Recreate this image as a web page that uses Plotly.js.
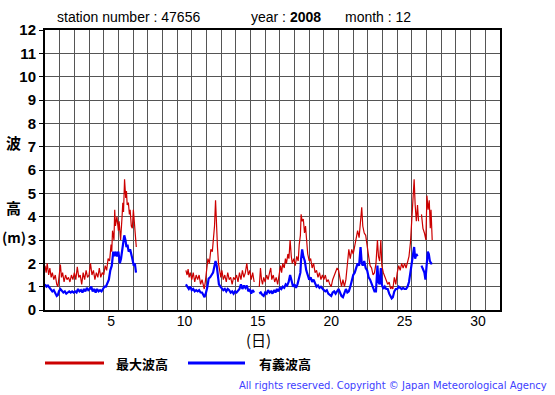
<!DOCTYPE html>
<html>
<head>
<meta charset="utf-8">
<script src="https://cdn.plot.ly/plotly-3.0.1.min.js"></script>
<style>html,body{margin:0;padding:0;background:#fff;}#chart{width:555px;height:395px;}</style>
</head>
<body>
<div id="chart"></div>
<script>
// ---- data (time in days from start of month, wave height in m; null = missing) ----
const maxT = [0.00,0.08,0.15,0.25,0.33,0.42,0.5,0.6,0.7,0.8,0.88,0.95,1.05,1.12,1.2,1.3,1.4,1.5,1.6,1.7,1.8,1.9,2.0,2.1,2.2,2.3,2.4,2.5,2.6,2.7,2.8,2.9,3.0,3.1,3.2,3.3,3.4,3.5,3.6,3.7,3.8,3.9,4.0,4.1,4.2,4.3,4.4,4.5,4.55,4.6,4.7,4.75,4.8,4.9,5.0,5.05,5.15,5.25,5.3,5.35,5.42,5.5,5.55,5.6,5.68,5.75,5.8,5.88,5.95,6.02,6.1,6.18,6.22,
  8.0,
  9.6,9.68,9.75,9.82,9.9,10.0,10.1,10.2,10.3,10.4,10.5,10.6,10.7,10.78,10.85,10.92,11.0,11.1,11.2,11.3,11.4,11.5,11.55,11.62,11.68,11.75,11.82,11.9,11.98,12.05,12.15,12.25,12.35,12.45,12.55,12.65,12.75,12.85,12.95,13.05,13.15,13.25,13.35,13.45,13.55,13.65,13.75,13.85,13.95,14.05,14.15,14.25,
  14.4,
  14.6,14.68,14.75,14.82,14.9,15.0,15.1,15.2,15.3,15.38,15.45,15.55,15.65,15.75,15.85,15.95,16.05,16.12,16.2,16.3,16.38,16.45,16.55,16.62,16.7,16.78,16.85,16.95,17.05,17.15,17.25,17.32,17.4,17.45,17.52,17.6,17.68,17.75,17.82,17.9,18.0,18.1,18.2,18.3,18.4,18.5,18.6,18.7,18.8,18.9,19.0,19.1,19.2,19.3,19.4,19.5,19.6,19.7,19.8,19.9,20.0,20.1,20.2,20.3,20.4,20.5,20.6,20.7,20.8,20.9,21.0,21.1,21.2,21.3,21.4,21.5,21.58,21.65,21.75,21.85,21.95,22.05,22.15,22.25,22.35,22.45,22.55,22.65,22.72,22.8,22.88,22.95,23.05,23.15,23.25,23.35,23.45,23.55,23.62,23.7,23.8,23.9,24.0,24.1,24.2,24.3,24.4,24.5,24.6,24.7,24.8,24.9,25.0,25.08,25.15,25.22,25.3,25.38,25.45,
  25.55,
  25.65,25.75,25.85,25.95,26.02,26.1,26.18,26.25,26.3,26.38];
const maxH = [1.9,1.6,2.0,1.5,1.8,1.4,1.6,1.3,1.5,1.1,1.0,1.4,1.95,1.4,1.6,1.2,1.5,1.3,1.4,1.2,1.5,1.3,1.6,1.3,1.85,1.4,1.5,1.1,1.6,1.3,1.7,1.4,1.5,2.0,1.5,1.7,1.3,1.6,1.4,1.8,1.4,1.6,1.5,1.9,1.7,2.2,2.1,2.8,2.5,3.4,3.0,4.3,3.6,4.0,3.4,3.8,3.0,4.0,4.6,4.2,5.6,4.8,5.1,4.5,4.6,4.1,4.3,3.6,3.5,4.3,3.6,2.8,2.7,
  null,
  1.7,1.5,1.75,1.4,1.6,1.3,1.6,1.2,1.5,1.3,1.5,1.1,1.3,1.0,0.9,1.2,1.7,2.2,2.0,2.6,2.5,3.3,3.6,4.7,3.6,2.7,2.0,1.6,1.4,1.7,1.3,1.5,1.2,1.6,1.3,1.4,1.1,1.4,1.3,1.5,1.2,1.6,1.3,1.7,1.4,1.6,2.0,1.5,1.7,1.3,1.6,1.2,
  null,
  1.0,1.8,1.3,1.1,1.4,1.2,1.5,1.3,1.6,1.8,1.3,1.5,1.2,1.4,1.1,1.5,1.9,1.6,2.0,1.8,2.2,2.0,2.4,2.2,3.0,2.3,2.0,2.2,1.9,2.3,2.1,2.8,3.2,4.1,3.8,3.9,3.3,3.6,2.8,2.4,2.1,2.2,1.8,2.0,1.6,1.7,1.4,1.6,1.3,1.5,1.3,1.5,1.2,1.3,1.1,1.0,1.3,1.5,1.6,1.8,1.7,1.4,1.0,1.3,1.0,1.3,1.9,2.6,2.2,2.6,2.4,2.8,3.0,3.4,3.1,3.9,4.4,3.6,3.3,3.2,2.6,2.3,1.9,1.8,1.5,1.6,2.0,3.0,2.3,2.1,3.0,1.9,1.6,1.4,1.3,1.1,1.2,0.9,1.0,0.9,1.4,1.1,1.6,1.9,1.7,2.0,1.8,2.0,1.8,2.1,2.3,2.9,3.8,4.8,5.6,4.5,3.8,4.5,3.8,
  null,
  4.1,3.5,3.3,3.0,4.9,4.3,4.7,3.5,4.3,3.0];

const sigT = [0.00,0.1,0.2,0.3,0.4,0.5,0.6,0.7,0.8,0.88,0.95,1.05,1.15,1.25,1.35,1.45,1.55,1.65,1.75,1.85,1.95,2.05,2.15,2.25,2.35,2.45,2.55,2.65,2.75,2.85,2.95,3.05,3.15,3.25,3.35,3.45,3.55,3.65,3.75,3.85,3.95,4.05,4.15,4.25,4.35,4.45,4.55,4.65,4.72,4.8,4.9,5.0,5.1,5.18,5.25,5.32,5.4,5.48,5.55,5.62,5.7,5.8,5.88,5.95,6.05,6.12,6.2,
  8.0,
  9.6,9.7,9.8,9.9,10.0,10.1,10.2,10.3,10.4,10.5,10.6,10.7,10.8,10.87,10.95,11.05,11.15,11.25,11.35,11.45,11.55,11.62,11.7,11.78,11.85,11.95,12.05,12.15,12.25,12.35,12.45,12.55,12.65,12.75,12.85,12.95,13.05,13.15,13.25,13.35,13.45,13.55,13.65,13.75,13.85,13.95,14.05,14.15,14.25,
  14.4,
  14.6,14.7,14.8,14.9,15.0,15.1,15.2,15.3,15.4,15.5,15.6,15.7,15.8,15.9,16.0,16.1,16.2,16.3,16.4,16.5,16.6,16.7,16.8,16.9,17.0,17.1,17.2,17.3,17.4,17.45,17.52,17.6,17.7,17.8,17.9,18.0,18.1,18.2,18.3,18.4,18.5,18.6,18.7,18.8,18.9,19.0,19.1,19.2,19.3,19.4,19.5,19.6,19.7,19.8,19.9,20.0,20.1,20.2,20.3,20.4,20.5,20.6,20.7,20.8,20.9,21.0,21.1,21.2,21.3,21.4,21.5,21.58,21.65,21.75,21.85,21.95,22.05,22.15,22.25,22.35,22.45,22.55,22.65,22.72,22.8,22.88,22.95,23.05,23.15,23.25,23.35,23.45,23.55,23.62,23.7,23.8,23.9,24.0,24.1,24.2,24.3,24.4,24.5,24.6,24.7,24.8,24.9,25.0,25.08,25.15,25.22,25.3,25.38,
  25.5,
  25.65,25.75,25.85,25.92,26.0,26.08,26.15,26.22,26.3,26.38];
const sigH = [1.1,1.0,1.05,0.95,0.9,0.8,0.85,0.7,0.6,0.65,0.8,0.9,0.8,0.75,0.8,0.7,0.75,0.8,0.75,0.8,0.75,0.8,0.75,0.9,0.8,0.85,0.75,0.9,0.8,0.95,0.85,0.9,1.0,0.8,0.9,0.75,0.9,0.8,0.85,0.8,0.9,1.0,1.0,1.2,1.3,1.7,1.9,2.5,2.3,2.5,2.3,2.5,2.0,2.2,2.6,2.9,3.2,3.0,2.7,2.8,2.5,2.6,2.3,2.2,1.9,2.0,1.6,
  null,
  1.1,1.0,0.9,1.0,0.85,0.9,0.8,0.85,0.8,0.85,0.75,0.75,0.6,0.55,0.7,0.95,1.35,1.4,1.5,1.6,1.9,2.1,1.9,1.4,1.1,1.0,0.9,0.85,0.9,0.8,0.9,0.85,0.75,0.8,0.7,0.8,0.75,0.85,0.9,1.1,0.9,1.05,0.95,1.05,0.8,0.9,0.7,0.85,0.75,
  null,
  0.7,0.75,0.65,0.6,0.75,0.7,0.85,0.75,0.8,0.7,0.85,0.75,0.9,0.8,0.95,0.9,1.0,0.95,1.1,1.05,1.2,1.5,1.25,1.0,1.1,0.95,1.1,1.3,1.6,2.2,2.6,2.3,2.1,1.7,1.5,1.3,1.4,1.2,1.3,1.1,1.0,1.05,0.95,1.0,0.9,0.85,0.8,0.85,0.7,0.65,0.6,0.75,0.8,0.7,0.8,0.9,0.75,0.6,0.55,0.7,0.9,0.75,0.8,1.0,1.3,1.5,1.6,1.8,2.0,1.9,2.7,2.0,1.9,2.1,1.8,1.7,1.4,1.3,1.1,0.9,0.8,0.8,1.9,1.2,1.1,1.8,1.1,0.9,1.0,0.9,0.9,0.7,0.6,0.5,0.55,0.8,0.9,0.9,1.0,0.95,0.9,0.95,0.9,0.9,1.0,1.2,1.7,2.2,2.4,2.7,2.2,2.4,2.3,
  null,
  1.9,1.7,1.6,1.3,2.0,2.5,2.4,2.1,2.0,2.0];

const dayTickVals = [4.5, 9.5, 14.5, 19.5, 24.5, 29.5];
const dayTickText = ['5', '10', '15', '20', '25', '30'];
const dayGrid = Array.from({length: 30}, (_, i) => i + 1);
const seriesNames = ['最大波高', '有義波高'];

// ---- layout helpers (pixel -> paper) ----
const W = 555, H = 395, ML = 45, MR = 55, MT = 30, MB = 85;
const PW = W - ML - MR, PH = H - MT - MB;
const px = x => (x - ML) / PW;
const py = y => (H - MB - y) / PH;

const traces = [
  {x: maxT, y: maxH, type: 'scatter', mode: 'lines', name: seriesNames[0],
   line: {color: '#cc0000', width: 1.2}, connectgaps: false, hoverinfo: 'skip'},
  {x: sigT, y: sigH, type: 'scatter', mode: 'lines', name: seriesNames[1],
   line: {color: '#0000ff', width: 2.2}, connectgaps: false, hoverinfo: 'skip'}
];

const baseFont = {family: 'Liberation Sans, Arial, sans-serif', color: '#000'};
const cjk = 'Noto Sans CJK JP, sans-serif';
function ann(text, x, y, font, xanchor) {
  return {text: text, xref: 'paper', yref: 'paper', x: px(x), y: py(y),
          xanchor: xanchor || 'center', yanchor: 'middle', showarrow: false, font: font};
}

const layout = {
  width: W, height: H,
  margin: {l: ML, r: MR, t: MT, b: MB, pad: 0},
  paper_bgcolor: '#fff', plot_bgcolor: '#fff',
  showlegend: false,
  xaxis: {
    range: [0, 31], fixedrange: true,
    tickmode: 'array', tickvals: dayTickVals, ticktext: dayTickText,
    ticks: '', showgrid: false, zeroline: false, ticklabelstandoff: -3,
    tickfont: Object.assign({}, baseFont, {size: 14}),
    showline: true, linecolor: '#000', linewidth: 2, mirror: true,
    minor: {tickmode: 'array', tickvals: dayGrid, showgrid: true, gridcolor: '#555', gridwidth: 1, ticks: ''}
  },
  yaxis: {
    range: [0, 12], fixedrange: true, dtick: 1, tick0: 0,
    ticks: 'outside', ticklen: 4, tickcolor: '#000', tickwidth: 1,
    showgrid: true, gridcolor: '#555', gridwidth: 1, zeroline: false,
    tickfont: Object.assign({}, baseFont, {size: 15, weight: 'bold'}),
    showline: true, linecolor: '#000', linewidth: 2, mirror: true
  },
  shapes: [
    {type: 'line', xref: 'paper', yref: 'paper', x0: px(45), x1: px(104), y0: py(363), y1: py(363), line: {color: '#cc0000', width: 3}},
    {type: 'line', xref: 'paper', yref: 'paper', x0: px(188), x1: px(245), y0: py(363), y1: py(363), line: {color: '#0000ff', width: 3}}
  ],
  annotations: [
    ann('station number : 47656', 55, 17, Object.assign({}, baseFont, {size: 14}), 'left'),
    ann('year : <b>2008</b>', 249, 17, Object.assign({}, baseFont, {size: 14}), 'left'),
    ann('month : 12', 343, 17, Object.assign({}, baseFont, {size: 14}), 'left'),
    ann('波', 13, 142, {family: cjk, size: 15, weight: 'bold', color: '#000'}),
    ann('高', 13, 207, {family: cjk, size: 15, weight: 'bold', color: '#000'}),
    ann('(m)', 14, 237, {family: cjk, size: 14, weight: 'bold', color: '#000'}),
    ann('(日)', 258, 339, {family: cjk, size: 15, color: '#000'}),
    ann(seriesNames[0], 142, 363, {family: cjk, size: 13, weight: 'bold', color: '#000'}),
    ann(seriesNames[1], 285, 363, {family: cjk, size: 13, weight: 'bold', color: '#000'}),
    ann('All rights reserved. Copyright © Japan Meteorological Agency', 549, 385,
        {family: 'DejaVu Sans, sans-serif', size: 10, color: '#4040ff'}, 'right')
  ]
};

Plotly.newPlot('chart', traces, layout, {staticPlot: true, displayModeBar: false});
</script>
</body>
</html>
